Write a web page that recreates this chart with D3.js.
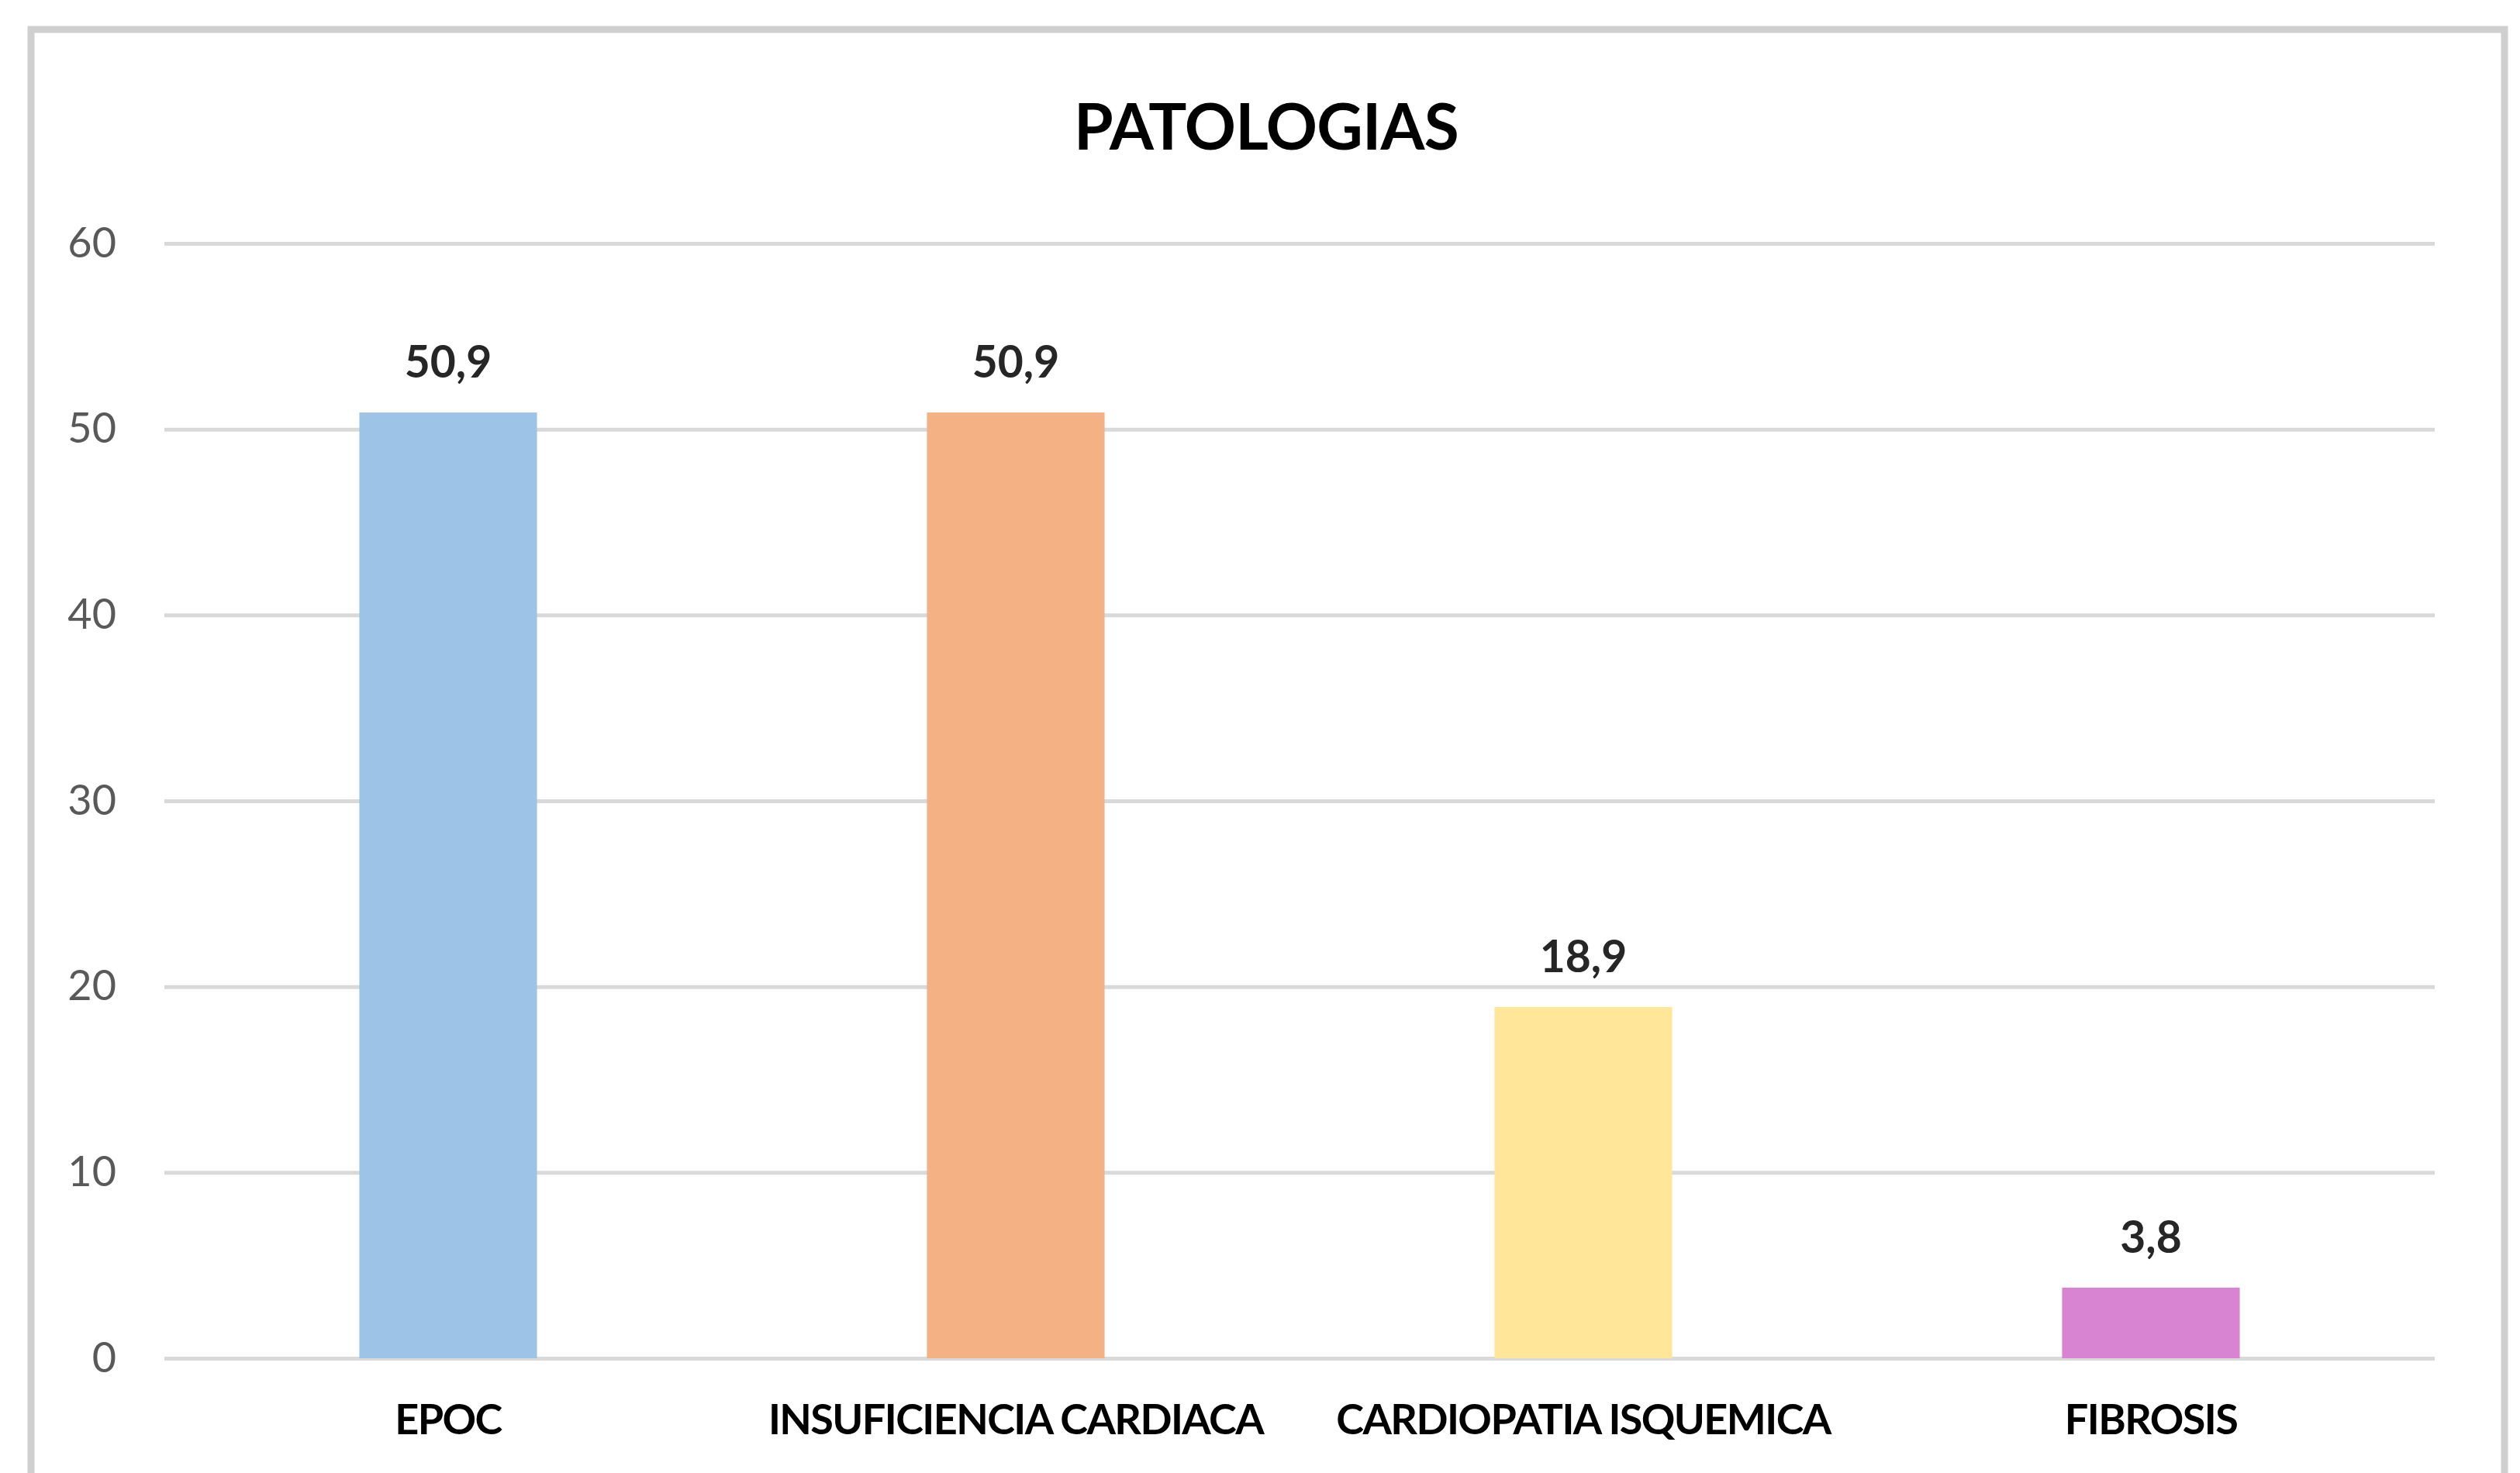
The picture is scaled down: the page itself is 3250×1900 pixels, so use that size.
<!DOCTYPE html>
<html>
<head>
<meta charset="utf-8">
<script src="https://cdn.jsdelivr.net/npm/d3@7"></script>
<style>
  html, body { margin: 0; padding: 0; background: #fff; }
  svg { display: block; }
  text { font-family: Lato, "Open Sans", sans-serif; }
</style>
</head>
<body>
<div id="chart"></div>
<script>
// chart data
var categories = ['EPOC', 'INSUFICIENCIA CARDIACA', 'CARDIOPATIA ISQUEMICA', 'FIBROSIS'];
var values = [50.9, 50.9, 18.9, 3.8];
var barColors = ['#9dc3e6', '#f4b183', '#ffe699', '#d984d3'];
var yTicks = [0, 10, 20, 30, 40, 50, 60];
var title = 'PATOLOGIAS';

var W = 3250, H = 1900;
var margin = { top: 314, right: 110, bottom: 148, left: 212 };
var width = W - margin.left - margin.right,
  height = H - margin.top - margin.bottom;

var locale = d3.formatLocale({ decimal: ',', thousands: '.', grouping: [3], currency: ['', '€'] });
var fmt = locale.format('.1f');

var svg = d3.select('#chart')
  .append('svg')
  .attr('width', W)
  .attr('height', H);

// outer frame
svg.append('rect')
  .attr('x', 40)
  .attr('y', 38)
  .attr('width', 3190)
  .attr('height', 1900)
  .attr('fill', '#fff')
  .attr('stroke', '#cfcfcf')
  .attr('stroke-width', 9);

var g = svg.append('g')
  .attr('transform', 'translate(' + margin.left + ',' + margin.top + ')');

var x = d3.scaleBand()
  .domain(categories)
  .range([0, width])
  .paddingInner(0.687)
  .paddingOuter(0.3435);

var y = d3.scaleLinear()
  .domain([0, 60])
  .range([height, 0]);

// gridlines + y labels
var yAxis = g.append('g')
  .call(d3.axisLeft(y).tickValues(yTicks).tickSize(-width).tickPadding(62).tickFormat(d3.format('d')));
yAxis.select('.domain').remove();
yAxis.selectAll('.tick line')
  .attr('stroke', '#d9d9d9')
  .attr('stroke-width', 5);
yAxis.selectAll('.tick text')
  .attr('fill', '#595959')
  .style('font-size', '54px');

// bars
g.selectAll('rect.bar')
  .data(values)
  .enter()
  .append('rect')
  .attr('class', 'bar')
  .attr('x', function(d, i) { return x(categories[i]); })
  .attr('y', function(d) { return y(d); })
  .attr('width', x.bandwidth())
  .attr('height', function(d) { return height - y(d); })
  .attr('fill', function(d, i) { return barColors[i]; });

// value labels
g.selectAll('text.val')
  .data(values)
  .enter()
  .append('text')
  .attr('class', 'val')
  .attr('x', function(d, i) { return x(categories[i]) + x.bandwidth() / 2; })
  .attr('y', function(d) { return y(d) - 45; })
  .attr('text-anchor', 'middle')
  .attr('fill', '#262626')
  .style('font-size', '57px')
  .style('font-weight', 'bold')
  .text(function(d) { return fmt(d); });

// category labels
var xAxis = g.append('g')
  .attr('transform', 'translate(0,' + height + ')')
  .call(d3.axisBottom(x).tickSize(0).tickPadding(98));
xAxis.select('.domain').remove();
xAxis.selectAll('.tick text')
  .attr('fill', '#000')
  .attr('dy', 0)
  .style('font-size', '54px')
  .style('letter-spacing', '-1.6px')
  .style('font-weight', 'bold');

// title
svg.append('text')
  .attr('x', 1633)
  .attr('y', 193)
  .attr('text-anchor', 'middle')
  .attr('fill', '#000')
  .style('font-size', '82px')
  .style('letter-spacing', '-0.8px')
  .style('font-weight', 'bold')
  .text(title);
</script>
</body>
</html>
